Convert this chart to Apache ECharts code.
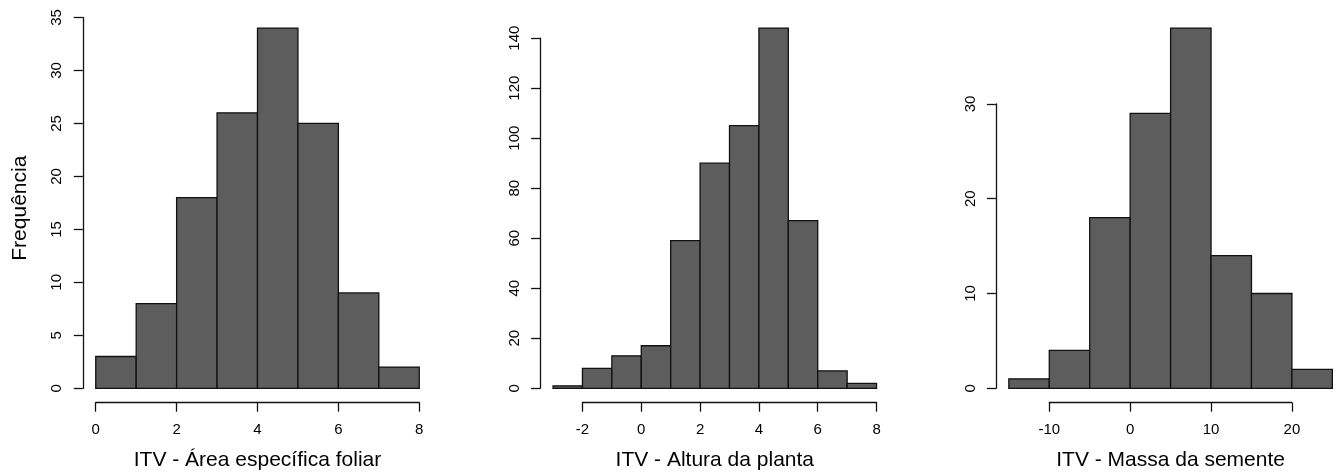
<!DOCTYPE html>
<html>
<head>
<meta charset="utf-8">
<script src="https://cdn.jsdelivr.net/npm/echarts@6/dist/echarts.min.js"></script>
<style>
  html, body { margin: 0; padding: 0; background: #fff; }
  #chart { width: 1336px; height: 473px; }
</style>
</head>
<body>
<div id="chart"></div>
<script>
// Histogram bin edges and counts for the three traits
const breaksArea = [0, 1, 2, 3, 4, 5, 6, 7, 8];
const countsArea = [3, 8, 18, 26, 34, 25, 9, 2];

const breaksAltura = [-3, -2, -1, 0, 1, 2, 3, 4, 5, 6, 7, 8];
const countsAltura = [1, 8, 13, 17, 59, 90, 105, 144, 67, 7, 2];

const breaksMassa = [-15, -10, -5, 0, 5, 10, 15, 20, 25];
const countsMassa = [1, 4, 18, 29, 38, 14, 10, 2];

// Tick positions drawn on each axis
const xTicksArea = [0, 2, 4, 6, 8];
const yTicksArea = [0, 5, 10, 15, 20, 25, 30, 35];
const xTicksAltura = [-2, 0, 2, 4, 6, 8];
const yTicksAltura = [0, 20, 40, 60, 80, 100, 120, 140];
const xTicksMassa = [-10, 0, 10, 20];
const yTicksMassa = [0, 10, 20, 30];

const titles = ['ITV - Área específica foliar', 'ITV - Altura da planta', 'ITV - Massa da semente'];
const yTitle = 'Frequência';

const panels = [
  { breaks: breaksArea, counts: countsArea, xTicks: xTicksArea, yTicks: yTicksArea, title: titles[0] },
  { breaks: breaksAltura, counts: countsAltura, xTicks: xTicksAltura, yTicks: yTicksAltura, title: titles[1] },
  { breaks: breaksMassa, counts: countsMassa, xTicks: xTicksMassa, yTicks: yTicksMassa, title: titles[2] }
];

// Plot-region geometry
const plotLeft = [82.8, 540.1, 995.9];
const plotWidth = 349.4;
const plotTop = 13.7;
const plotHeight = 389;

const FONT = "'Liberation Sans', Arial, sans-serif";
const INK = '#000';
const LINE = '#111';
const FILL = '#5d5d5d';

const grids = [], xAxes = [], yAxes = [], series = [];

panels.forEach((p, i) => {
  const xmin = p.breaks[0], xmax = p.breaks[p.breaks.length - 1];
  const xext = 0.04 * (xmax - xmin);
  const xlo = xmin - xext, xhi = xmax + xext;
  const ymax = Math.max(...p.counts);
  const ylo = -0.04 * ymax, yhi = ymax * 1.04;

  // grid holding the bars (full plot region)
  const gBars = grids.length;
  grids.push({ left: plotLeft[i], top: plotTop, width: plotWidth, height: plotHeight,
               outerBoundsMode: 'none' });
  xAxes.push({
    gridIndex: gBars, type: 'value', min: xlo, max: xhi,
    axisLine: { show: false }, axisTick: { show: false }, axisLabel: { show: false },
    splitLine: { show: false },
    name: p.title, nameLocation: 'middle', nameGap: 47,
    nameTextStyle: { fontFamily: FONT, fontSize: 21, color: INK }
  });
  yAxes.push({
    gridIndex: gBars, type: 'value', min: ylo, max: yhi,
    axisLine: { show: false }, axisTick: { show: false }, axisLabel: { show: false },
    splitLine: { show: false },
    name: i === 0 ? yTitle : '', nameLocation: 'middle', nameGap: 52, nameRotate: 90,
    nameTextStyle: { fontFamily: FONT, fontSize: 21, color: INK }
  });

  // grid spanning only the tick range, used for the drawn axes
  const xt0 = p.xTicks[0], xt1 = p.xTicks[p.xTicks.length - 1];
  const yt0 = p.yTicks[0], yt1 = p.yTicks[p.yTicks.length - 1];
  const sx = plotWidth / (xhi - xlo), sy = plotHeight / (yhi - ylo);
  const dLeft = plotLeft[i] + (xt0 - xlo) * sx;
  const dWidth = (xt1 - xt0) * sx;
  const dTop = plotTop + (yhi - yt1) * sy;
  const dHeight = (yt1 - yt0) * sy;
  const gAxes = grids.length;
  grids.push({ left: dLeft, top: dTop, width: dWidth, height: dHeight, outerBoundsMode: 'none' });
  const xInt = p.xTicks[1] - p.xTicks[0];
  const yInt = p.yTicks[1] - p.yTicks[0];
  xAxes.push({
    gridIndex: gAxes, type: 'value', min: xt0, max: xt1, interval: xInt,
    offset: (plotTop + plotHeight) - (dTop + dHeight),
    axisLine: { show: true, onZero: false, lineStyle: { color: LINE, width: 1.3 } },
    axisTick: { show: true, inside: false, length: 9, lineStyle: { color: LINE, width: 1.3 } },
    axisLabel: { show: true, margin: 20, fontFamily: FONT, fontSize: 15, color: INK,
                 showMinLabel: true, showMaxLabel: true },
    splitLine: { show: false }
  });
  yAxes.push({
    gridIndex: gAxes, type: 'value', min: yt0, max: yt1, interval: yInt,
    offset: dLeft - plotLeft[i],
    axisLine: { show: true, onZero: false, lineStyle: { color: LINE, width: 1.3 } },
    axisTick: { show: true, inside: false, length: 9, lineStyle: { color: LINE, width: 1.3 } },
    axisLabel: { show: true, margin: 18, rotate: 90, fontFamily: FONT, fontSize: 15, color: INK,
                 showMinLabel: true, showMaxLabel: true },
    splitLine: { show: false }
  });

  const data = p.counts.map((c, k) => [p.breaks[k], p.breaks[k + 1], c]);
  series.push({
    type: 'custom',
    xAxisIndex: gBars, yAxisIndex: gBars,
    clip: false,
    encode: { x: [0, 1], y: 2 },
    data: data,
    renderItem: function (params, api) {
      const a = api.coord([api.value(0), api.value(2)]);
      const b = api.coord([api.value(1), 0]);
      return {
        type: 'rect',
        shape: { x: a[0], y: a[1], width: b[0] - a[0], height: b[1] - a[1] },
        style: { fill: FILL, stroke: LINE, lineWidth: 1.3 }
      };
    }
  });
});

const chart = echarts.init(document.getElementById('chart'), null, { renderer: 'canvas' });
chart.setOption({
  animation: false,
  backgroundColor: '#fff',
  grid: grids,
  xAxis: xAxes,
  yAxis: yAxes,
  series: series
});
</script>
</body>
</html>
